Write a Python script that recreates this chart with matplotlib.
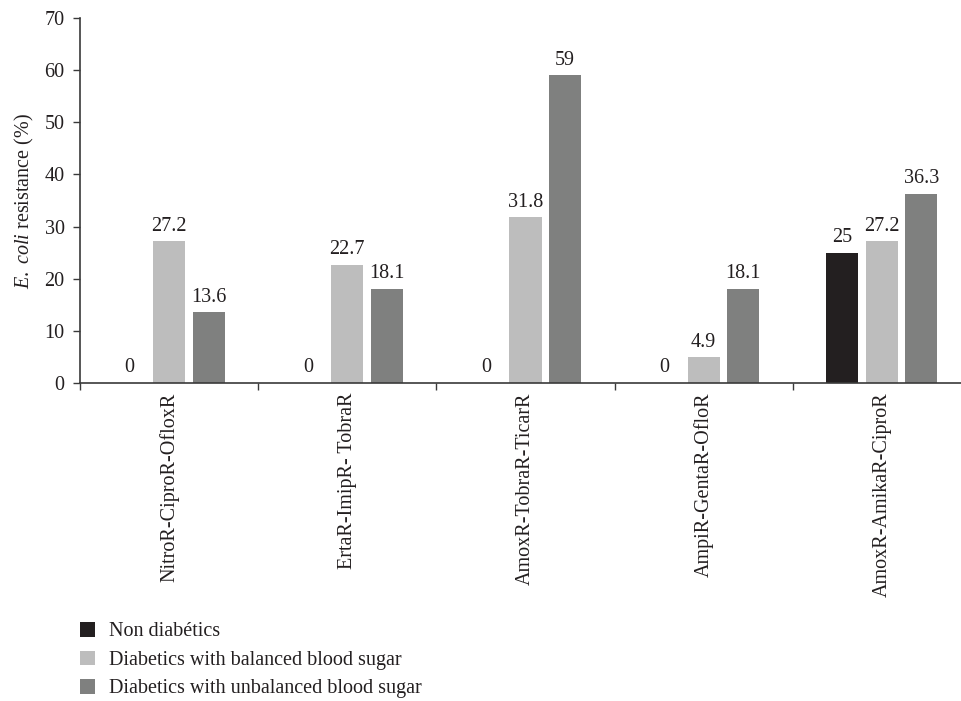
import numpy as np
import matplotlib
matplotlib.use("Agg")
import matplotlib.pyplot as plt

plt.rcParams['font.family'] = ['Liberation Serif', 'DejaVu Serif']
plt.rcParams['mathtext.fontset'] = 'custom'
plt.rcParams['mathtext.rm'] = 'Liberation Serif'
plt.rcParams['mathtext.it'] = 'Liberation Serif:italic'

categories = ["NitroR-CiproR-OfloxR", "ErtaR-ImipR- TobraR", "AmoxR-TobraR-TicarR",
              "AmpiR-GentaR-OfloR", "AmoxR-AmikaR-CiproR"]
series_names = ["Non diabétics", "Diabetics with balanced blood sugar",
                "Diabetics with unbalanced blood sugar"]
non_diabetics = [0, 0, 0, 0, 25]
balanced = [27.2, 22.7, 31.8, 4.9, 27.2]
unbalanced = [13.6, 18.1, 59, 18.1, 36.3]
colors = ["#231f20", "#bdbdbd", "#7f807f"]
y_ticks = [0, 10, 20, 30, 40, 50, 60, 70]

fig = plt.figure(figsize=(9.62, 7.01), dpi=100)
ax = fig.add_axes([80 / 962, 318 / 701, 891 / 962, 365 / 701])

x = np.arange(len(categories))
step = 0.2215
width = 0.18
spine_col = "#3a3a3a"
text_col = "#231f20"
fs = 14.5

for i, (vals, name, col) in enumerate(zip([non_diabetics, balanced, unbalanced], series_names, colors)):
    pos = x + (i - 1) * step
    ax.bar(pos, vals, width=width, color=col, label=name, zorder=2)
    for px, v in zip(pos, vals):
        ax.annotate(f"{v:g}", (px, v), xytext=(0, 4), textcoords="offset points",
                    ha="center", va="bottom", fontsize=fs, color=text_col)

ax.set_xlim(-0.5, len(categories) - 0.5)
ax.set_ylim(0, 70)
ax.set_yticks(y_ticks)
ax.tick_params(axis='y', labelsize=fs, length=5, width=1, color=spine_col,
               labelcolor=text_col, pad=6)

# Boundary ticks between groups, labels at group centres
ax.set_xticks(np.arange(len(categories) + 1) - 0.5)
ax.set_xticklabels([])
ax.set_xticks(x, minor=True)
ax.set_xticklabels(categories, minor=True, rotation=90, fontsize=fs, color=text_col)
ax.tick_params(axis='x', which='major', length=5, width=1, color=spine_col)
ax.tick_params(axis='x', which='minor', length=0, pad=7)

for s in ["top", "right"]:
    ax.spines[s].set_visible(False)
for s in ["left", "bottom"]:
    ax.spines[s].set_color(spine_col)
    ax.spines[s].set_linewidth(1.2)

ax.set_ylabel(r"$\mathit{E.\ coli}$ resistance (%)", fontsize=fs, color=text_col, labelpad=6)

fig.legend(loc="upper left", bbox_to_anchor=(72 / 962, 1 - 614 / 701), frameon=False,
           fontsize=fs, handlelength=0.75, handleheight=0.75, handletextpad=0.7,
           labelspacing=0.45, borderaxespad=0, labelcolor=text_col)

fig.savefig("out.png", dpi=100)
